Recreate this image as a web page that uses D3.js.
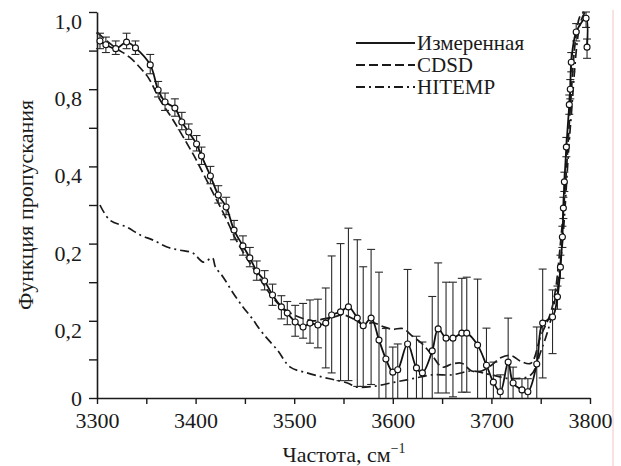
<!DOCTYPE html>
<html>
<head>
<meta charset="utf-8">
<script src="https://cdn.jsdelivr.net/npm/d3@7"></script>
<style>
	body { margin: 0; background: #fff; }
	svg text { fill: #1a1a1a; }
</style>
</head>
<body>
<div id="chart"></div>
<script>
// measured transmission (circles) with error bar bounds
const measFreq = [3303, 3309, 3319, 3330, 3339, 3354, 3362, 3369, 3379, 3386, 3393, 3401, 3406, 3415, 3423, 3431, 3439, 3448, 3455, 3462, 3470, 3478, 3487, 3493, 3501, 3509, 3516, 3524, 3532, 3538, 3547, 3555, 3564, 3570, 3578, 3586, 3593, 3600, 3605, 3615, 3624, 3630, 3640, 3646, 3654, 3661, 3670, 3675, 3686, 3695, 3702, 3709, 3717, 3722, 3731, 3737, 3746, 3752, 3762, 3767, 3770, 3772, 3773, 3774, 3776, 3779, 3780, 3781, 3786, 3796, 3797];
const measVal = [0.925, 0.915, 0.905, 0.922, 0.907, 0.863, 0.798, 0.767, 0.751, 0.715, 0.689, 0.658, 0.627, 0.575, 0.526, 0.495, 0.435, 0.394, 0.363, 0.329, 0.303, 0.267, 0.236, 0.220, 0.197, 0.184, 0.194, 0.189, 0.194, 0.215, 0.223, 0.236, 0.207, 0.187, 0.207, 0.150, 0.101, 0.067, 0.073, 0.140, 0.078, 0.065, 0.122, 0.179, 0.155, 0.155, 0.168, 0.168, 0.137, 0.085, 0.041, 0.016, 0.093, 0.039, 0.021, 0.016, 0.088, 0.194, 0.210, 0.262, 0.339, 0.417, 0.492, 0.56, 0.65, 0.76, 0.80, 0.87, 0.948, 0.984, 0.909];
const measLow = [0.905, 0.895, 0.89, 0.905, 0.89, 0.84, 0.78, 0.745, 0.73, 0.695, 0.67, 0.64, 0.605, 0.555, 0.505, 0.475, 0.41, 0.37, 0.34, 0.305, 0.28, 0.24, 0.205, 0.19, 0.16, 0.155, 0.142, 0.13, 0.078, 0.065, 0.045, 0.045, 0.03, 0.03, 0.035, 0, 0, 0, 0, 0, 0, 0, 0, 0.013, 0.013, 0.003, 0.015, 0.015, 0, 0, 0, 0, 0, 0, 0, 0, 0, 0.052, 0.115, 0.23, 0.31, 0.39, 0.465, 0.535, 0.625, 0.735, 0.775, 0.845, 0.925, 0.96, 0.88];
const measHigh = [0.945, 0.935, 0.925, 0.945, 0.925, 0.89, 0.82, 0.79, 0.775, 0.74, 0.71, 0.68, 0.65, 0.6, 0.55, 0.52, 0.46, 0.42, 0.39, 0.355, 0.33, 0.295, 0.265, 0.25, 0.24, 0.245, 0.254, 0.256, 0.285, 0.368, 0.40, 0.44, 0.41, 0.34, 0.385, 0.326, 0.18, 0.132, 0.14, 0.333, 0.16, 0.145, 0.263, 0.35, 0.30, 0.30, 0.31, 0.313, 0.308, 0.181, 0.093, 0.06, 0.207, 0.08, 0.05, 0.05, 0.184, 0.334, 0.28, 0.29, 0.37, 0.445, 0.52, 0.585, 0.675, 0.785, 0.825, 0.895, 0.97, 1.0, 0.93];

// CDSD calculation (dashed)
const cdsdFreq = [3300, 3310, 3320, 3333, 3344, 3352, 3364, 3376, 3390, 3400, 3410, 3420, 3430, 3440, 3450, 3460, 3470, 3480, 3490, 3500, 3510, 3520, 3530, 3540, 3550, 3560, 3570, 3580, 3590, 3600, 3610, 3620, 3630, 3640, 3650, 3660, 3670, 3680, 3690, 3700, 3710, 3720, 3730, 3740, 3750, 3760, 3765, 3770, 3775, 3780, 3785, 3790, 3794];
const cdsdVal = [0.948, 0.925, 0.905, 0.883, 0.855, 0.83, 0.772, 0.725, 0.665, 0.62, 0.57, 0.52, 0.47, 0.415, 0.37, 0.33, 0.29, 0.255, 0.23, 0.215, 0.205, 0.20, 0.205, 0.21, 0.215, 0.205, 0.19, 0.195, 0.185, 0.178, 0.18, 0.16, 0.14, 0.11, 0.08, 0.088, 0.09, 0.07, 0.07, 0.085, 0.105, 0.11, 0.095, 0.09, 0.16, 0.22, 0.28, 0.40, 0.55, 0.75, 0.92, 0.99, 1.0];

// HITEMP calculation (dash-dot)
const hitFreq = [3303, 3313, 3330, 3344, 3357, 3371, 3384, 3397, 3408, 3417, 3420, 3428, 3438, 3448, 3457, 3468, 3483, 3496, 3513, 3529, 3541, 3554, 3564, 3580, 3600, 3620, 3640, 3660, 3680, 3700, 3720, 3740, 3750, 3760, 3770, 3780, 3790, 3795];
const hitVal = [0.50, 0.461, 0.443, 0.422, 0.409, 0.391, 0.383, 0.376, 0.352, 0.363, 0.34, 0.313, 0.272, 0.236, 0.207, 0.168, 0.124, 0.08, 0.065, 0.054, 0.047, 0.039, 0.028, 0.03, 0.04, 0.05, 0.06, 0.06, 0.07, 0.06, 0.05, 0.06, 0.12, 0.2, 0.35, 0.7, 0.97, 1.0];

// axis ticks and labels (labels as printed)
const xTicks = [3300, 3350, 3400, 3450, 3500, 3550, 3600, 3650, 3700, 3750, 3800];
const yTicks = [0, 0.1, 0.2, 0.3, 0.4, 0.5, 0.6, 0.7, 0.8, 0.9, 1.0];
const yLabelVals = [0, 0.2, 0.4, 0.6, 0.8, 1.0];
const yLabelText = ["0", "0,2", "0,2", "0,4", "0,8", "1,0"];

const legendNames = ["Измеренная", "CDSD", "HITEMP"];
const legendDash = [null, "9,4", "9,4,2,4"];

const width = 621, height = 466;
const plotLeft = 97, plotRight = 590, plotTop = 12, plotBottom = 398;
const serif = '"Times New Roman", "Liberation Serif", Times, "DejaVu Serif", serif';

const svg = d3.select("#chart")
	.append("svg")
	.attr("width", width)
	.attr("height", height)
	.style("font-family", serif);

const x = d3.scaleLinear().domain([3300, 3800]).range([plotLeft, plotRight]);
const y = d3.scaleLinear().domain([0, 1]).range([plotBottom, plotTop]);

// faint scan line at the right edge
svg.append("line")
	.attr("x1", 613).attr("x2", 613)
	.attr("y1", 10).attr("y2", height)
	.attr("stroke", "#f2c4c4").attr("stroke-width", 1);

// axes
const xAxis = d3.axisBottom(x)
	.tickValues(xTicks)
	.tickSize(6)
	.tickSizeOuter(0)
	.tickPadding(8)
	.tickFormat(d => d % 100 === 0 ? d : "");

const gx = svg.append("g")
	.attr("transform", `translate(0, ${plotBottom})`)
	.call(xAxis);

const yAxis = d3.axisLeft(y)
	.tickValues(yTicks)
	.tickSize(8)
	.tickSizeOuter(0)
	.tickPadding(7)
	.tickFormat(d => {
		const i = yLabelVals.findIndex(v => Math.abs(v - d) < 1e-6);
		return i >= 0 ? yLabelText[i] : "";
	});

const gy = svg.append("g")
	.attr("transform", `translate(${plotLeft}, 0)`)
	.call(yAxis);

[gx, gy].forEach(g => {
	g.attr("font-family", serif).attr("font-size", 22);
	g.select(".domain").attr("stroke", "#1a1a1a").attr("stroke-width", 1.6);
	g.selectAll(".tick line").attr("stroke", "#1a1a1a").attr("stroke-width", 1.4);
	g.selectAll(".tick text")
		.attr("font-family", serif)
		.attr("fill", "#1a1a1a");
});

// y labels sit a little below their ticks in the original
gy.selectAll(".tick text").attr("dy", d => d === 0 ? "0.33em" : "0.75em");

// lines
const toPts = (fs, vs) => fs.map((f, i) => [f, vs[i]]);

const line = d3.line()
	.x(d => x(d[0]))
	.y(d => y(d[1]))
	.curve(d3.curveCatmullRom.alpha(0.5));

svg.append("path")
	.datum(toPts(hitFreq, hitVal))
	.attr("d", line)
	.attr("fill", "none")
	.attr("stroke", "#1a1a1a")
	.attr("stroke-width", 1.7)
	.attr("stroke-dasharray", legendDash[2]);

svg.append("path")
	.datum(toPts(cdsdFreq, cdsdVal))
	.attr("d", line)
	.attr("fill", "none")
	.attr("stroke", "#1a1a1a")
	.attr("stroke-width", 1.7)
	.attr("stroke-dasharray", legendDash[1]);

// error bars
const meas = measFreq.map((f, i) => ({ f: f, v: measVal[i], lo: measLow[i], hi: measHigh[i] }));

const eb = svg.append("g")
	.attr("stroke", "#2a2a2a")
	.attr("stroke-width", 1.1);

eb.selectAll("line.bar")
	.data(meas)
	.enter()
	.append("line")
	.attr("class", "bar")
	.attr("x1", d => x(d.f)).attr("x2", d => x(d.f))
	.attr("y1", d => y(d.lo)).attr("y2", d => y(d.hi));

eb.selectAll("line.capHi")
	.data(meas)
	.enter()
	.append("line")
	.attr("class", "capHi")
	.attr("x1", d => x(d.f) - 4).attr("x2", d => x(d.f) + 4)
	.attr("y1", d => y(d.hi)).attr("y2", d => y(d.hi));

eb.selectAll("line.capLo")
	.data(meas.filter(d => d.lo > 0))
	.enter()
	.append("line")
	.attr("class", "capLo")
	.attr("x1", d => x(d.f) - 4).attr("x2", d => x(d.f) + 4)
	.attr("y1", d => y(d.lo)).attr("y2", d => y(d.lo));

svg.append("path")
	.datum(toPts(measFreq, measVal))
	.attr("d", line)
	.attr("fill", "none")
	.attr("stroke", "#111")
	.attr("stroke-width", 1.8);

svg.selectAll("circle")
	.data(meas)
	.enter()
	.append("circle")
	.attr("cx", d => x(d.f))
	.attr("cy", d => y(d.v))
	.attr("r", 3)
	.attr("fill", "#fff")
	.attr("stroke", "#111")
	.attr("stroke-width", 1.1);

// legend
const lg = svg.append("g").attr("transform", "translate(356, 43)");

legendNames.forEach((name, i) => {
	lg.append("line")
		.attr("x1", 0).attr("x2", 59)
		.attr("y1", i * 22).attr("y2", i * 22)
		.attr("stroke", "#1a1a1a")
		.attr("stroke-width", 2)
		.attr("stroke-dasharray", legendDash[i]);
	lg.append("text")
		.attr("x", 61)
		.attr("y", i * 22)
		.attr("dy", "0.35em")
		.attr("font-family", serif)
		.attr("font-size", 21)
		.text(name);
});

// axis titles
svg.append("text")
	.attr("transform", "translate(33, 205) rotate(-90)")
	.attr("text-anchor", "middle")
	.attr("font-family", serif)
	.attr("font-size", 22)
	.text("Функция пропускания");

const xt = svg.append("text")
	.attr("x", 344)
	.attr("y", 462)
	.attr("text-anchor", "middle")
	.attr("font-family", serif)
	.attr("font-size", 22);
xt.append("tspan").text("Частота, см");
xt.append("tspan")
	.attr("font-size", 14)
	.attr("dy", -9)
	.text("−1");
</script>
</body>
</html>
